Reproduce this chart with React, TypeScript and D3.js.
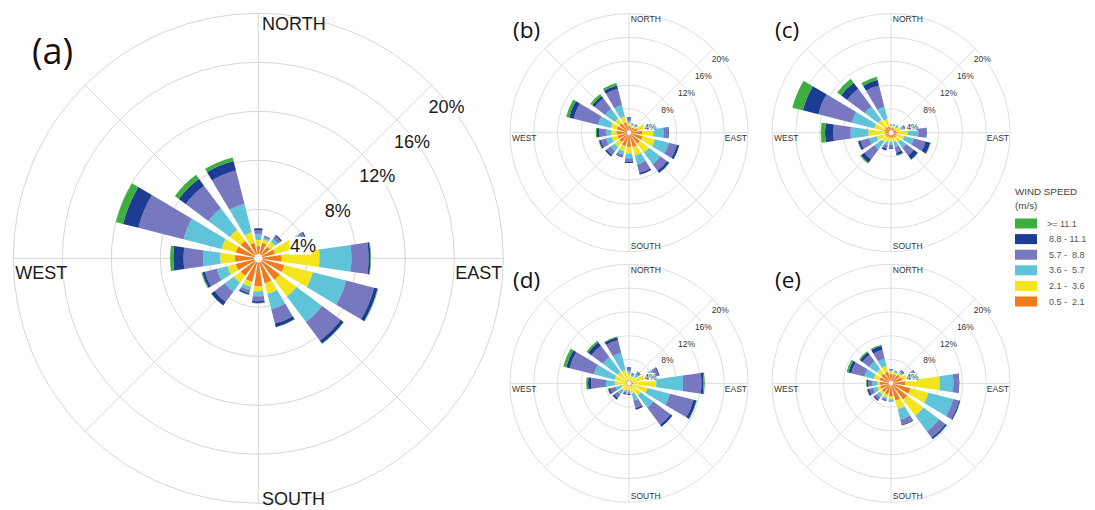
import React from 'react';
import * as d3 from 'd3';

// Sixteen compass sectors, clockwise from north
const DIRECTIONS = ['N', 'NNE', 'NE', 'ENE', 'E', 'ESE', 'SE', 'SSE', 'S', 'SSW', 'SW', 'WSW', 'W', 'WNW', 'NW', 'NNW'];

// Speed classes, slowest first (m/s)
const SPEED_CLASSES = ['0.5 -  2.1', '2.1 -  3.6', '3.6 -  5.7', '5.7 -  8.8', '8.8 - 11.1', '>= 11.1'];
const SPEED_COLORS = ['#ef7b1e', '#f3e41c', '#5fc4d9', '#7778c0', '#1c3d93', '#3eae3e'];

// Radial frequency rings (%)
const RING_TICKS = [4, 8, 12, 16, 20];

// Cumulative frequency (%) per sector, stacked from the slowest class outward
const roseA = [
  [1.0, 1.5, 2.0, 2.3, 2.45, 2.47],
  [1.3, 1.6, 1.75, 1.85, 1.9, 1.9],
  [1.2, 1.7, 2.0, 2.3, 2.4, 2.4],
  [1.4, 3.0, 3.8, 4.15, 4.25, 4.25],
  [1.9, 5.0, 7.6, 9.0, 9.15, 9.2],
  [2.2, 4.6, 7.4, 9.75, 10.05, 10.1],
  [2.2, 3.9, 6.5, 8.4, 8.68, 8.72],
  [2.1, 3.0, 4.3, 5.5, 5.8, 5.82],
  [2.3, 2.7, 3.1, 3.5, 3.65, 3.68],
  [2.0, 2.4, 2.7, 2.95, 3.08, 3.1],
  [1.8, 2.5, 3.4, 4.45, 4.8, 4.82],
  [1.9, 2.6, 3.5, 4.5, 4.72, 4.8],
  [1.9, 3.1, 4.5, 6.1, 6.94, 7.2],
  [1.9, 3.1, 6.3, 10.1, 11.4, 12.0],
  [1.8, 2.9, 5.1, 7.4, 8.1, 8.5],
  [1.3, 2.2, 4.6, 7.4, 8.2, 8.5],
];

const roseB = [
  [1.2, 1.6, 2.0, 2.4, 2.6, 2.6],
  [1.0, 1.3, 1.5, 1.6, 1.65, 1.65],
  [1.1, 1.4, 1.6, 1.75, 1.8, 1.8],
  [1.5, 2.6, 3.0, 3.2, 3.25, 3.25],
  [2.2, 4.1, 5.8, 6.55, 6.7, 6.7],
  [2.4, 4.5, 6.9, 8.3, 8.7, 8.72],
  [2.3, 4.2, 6.6, 8.0, 8.45, 8.5],
  [2.5, 4.0, 5.5, 7.0, 7.3, 7.3],
  [2.4, 3.5, 4.3, 4.9, 5.1, 5.1],
  [2.3, 3.2, 3.8, 4.2, 4.3, 4.3],
  [2.0, 3.0, 3.9, 4.7, 5.0, 5.0],
  [2.0, 3.0, 4.0, 4.9, 5.2, 5.3],
  [2.1, 3.0, 3.9, 5.0, 5.4, 5.6],
  [2.1, 3.2, 5.4, 9.6, 10.4, 10.9],
  [2.0, 3.0, 5.0, 7.2, 7.7, 8.1],
  [1.8, 2.8, 4.8, 7.6, 8.2, 8.6],
];

const roseC = [
  [0.8, 1.1, 1.2, 1.3, 1.35, 1.35],
  [0.8, 1.2, 1.4, 1.5, 1.5, 1.5],
  [0.8, 1.2, 1.5, 1.6, 1.6, 1.6],
  [0.9, 1.8, 2.2, 2.4, 2.5, 2.5],
  [1.0, 2.8, 4.6, 5.9, 6.0, 6.0],
  [1.0, 2.3, 4.0, 6.0, 6.8, 6.9],
  [1.0, 2.0, 3.2, 4.8, 5.6, 5.7],
  [0.9, 1.6, 2.5, 3.5, 3.9, 4.0],
  [0.9, 1.5, 2.0, 2.5, 2.7, 2.7],
  [0.9, 1.6, 2.2, 2.8, 3.1, 3.1],
  [0.9, 2.0, 3.5, 5.6, 6.3, 6.5],
  [1.0, 2.5, 3.8, 5.3, 5.7, 5.8],
  [1.0, 3.8, 6.8, 9.7, 11.1, 11.8],
  [1.2, 2.9, 6.8, 12.6, 15.3, 17.1],
  [1.2, 2.7, 5.5, 9.2, 10.5, 11.3],
  [1.1, 2.4, 4.5, 8.2, 9.2, 9.7],
];

const roseD = [
  [0.6, 1.6, 2.1, 2.5, 2.7, 2.7],
  [0.5, 1.2, 1.5, 1.7, 1.8, 1.8],
  [0.6, 1.5, 2.0, 2.4, 2.5, 2.5],
  [0.6, 3.0, 4.4, 5.1, 5.3, 5.3],
  [0.7, 4.6, 9.1, 12.2, 12.55, 12.75],
  [0.6, 3.2, 7.1, 11.2, 11.7, 11.8],
  [0.6, 2.5, 5.1, 8.7, 9.1, 9.1],
  [0.6, 1.8, 3.0, 4.3, 4.6, 4.6],
  [0.5, 1.2, 1.5, 1.8, 1.95, 2.0],
  [0.5, 1.1, 1.5, 1.8, 2.0, 2.0],
  [0.5, 1.5, 2.4, 3.1, 3.4, 3.5],
  [0.5, 1.4, 2.3, 3.3, 3.6, 3.7],
  [0.5, 2.4, 3.9, 6.4, 6.9, 7.2],
  [0.6, 2.5, 6.1, 10.3, 10.9, 11.4],
  [0.6, 2.4, 5.5, 7.9, 8.6, 8.9],
  [0.6, 2.3, 5.3, 7.5, 8.0, 8.1],
];

const roseE = [
  [1.6, 2.0, 2.2, 2.3, 2.4, 2.4],
  [1.6, 1.9, 2.1, 2.2, 2.2, 2.2],
  [1.8, 2.2, 2.5, 2.7, 2.8, 2.8],
  [2.0, 3.5, 4.0, 4.3, 4.4, 4.4],
  [2.4, 8.2, 10.5, 11.4, 11.5, 11.5],
  [3.4, 6.5, 10.8, 11.8, 12.0, 12.0],
  [3.4, 6.8, 10.1, 11.4, 11.7, 11.8],
  [3.0, 4.5, 6.3, 7.2, 7.3, 7.3],
  [2.2, 2.7, 3.0, 3.1, 3.1, 3.1],
  [2.0, 2.5, 2.8, 3.0, 3.1, 3.1],
  [1.9, 2.4, 3.0, 3.5, 3.7, 3.7],
  [1.9, 2.4, 3.1, 3.8, 4.1, 4.2],
  [1.9, 2.3, 3.1, 3.8, 4.1, 4.2],
  [2.0, 3.0, 4.6, 6.9, 7.4, 7.7],
  [2.0, 3.0, 4.6, 6.0, 6.5, 6.7],
  [2.0, 3.0, 4.3, 5.8, 6.5, 6.7],
];

const FONT = "'Liberation Sans', Arial, Helvetica, sans-serif";
const TAG_FONT = "'Open Sans', 'Noto Sans', sans-serif";
const BAR_SPAN = (16.5 * Math.PI) / 180;

type RoseProps = {
  cx: number;
  cy: number;
  radius: number;
  rows: number[][];
  tag: string;
  big?: boolean;
};

function Rose({ cx, cy, radius, rows, tag, big }: RoseProps) {
  const r = d3.scaleLinear().domain([0, 20]).range([0, radius]);
  const angle = d3
    .scalePoint<string>()
    .domain(DIRECTIONS)
    .range([0, (2 * Math.PI * 15) / 16]);
  const arc = d3.arc<any>();

  const cardSize = big ? 18 : 8.5;
  const pctSize = big ? 18 : 8.5;
  const tagSize = big ? 36 : 22.5;
  const textColor = big ? '#1a1a1a' : '#333';
  const gridColor = big ? '#d6d6d6' : '#dedede';
  const sideDy = big ? 15 : 5.5;
  const holeR = big ? 4.2 : 2.2;

  const spokes = d3.range(8).map((i) => (i * Math.PI) / 4);
  const diag = Math.SQRT1_2;

  const segments: { key: string; d: string; fill: string }[] = [];
  rows.forEach((row, i) => {
    const a = angle(DIRECTIONS[i]) as number;
    row.forEach((cum, k) => {
      const inner = k === 0 ? 0 : row[k - 1];
      if (cum <= inner) return;
      segments.push({
        key: `${i}-${k}`,
        fill: SPEED_COLORS[k],
        d: arc({
          innerRadius: r(inner),
          outerRadius: r(cum),
          startAngle: a - BAR_SPAN / 2,
          endAngle: a + BAR_SPAN / 2,
        }) as string,
      });
    });
  });

  return (
    <g>
      <g transform={`translate(${cx},${cy})`}>
        {RING_TICKS.map((t) => (
          <circle key={t} r={r(t)} fill="none" stroke={gridColor} strokeWidth={1} />
        ))}
        {spokes.map((s, i) => (
          <line
            key={i}
            x1={0}
            y1={0}
            x2={r(20) * Math.sin(s)}
            y2={-r(20) * Math.cos(s)}
            stroke={gridColor}
            strokeWidth={1}
          />
        ))}
        {segments.map((s) => (
          <path key={s.key} d={s.d} fill={s.fill} />
        ))}
        <circle r={holeR} fill="#fff" />
        {RING_TICKS.map((t) => {
          const label = `${t}%`;
          const x = r(t) * diag - radius * 0.012;
          const y = -r(t) * diag + radius * 0.09;
          const w = label.length * pctSize * 0.58;
          return (
            <g key={t}>
              <rect
                x={x - 1}
                y={y - pctSize * 0.5}
                width={w + 2}
                height={pctSize}
                fill="#fff"
              />
              <text
                x={x}
                y={y}
                dominantBaseline="central"
                fontSize={pctSize}
                fontFamily={FONT}
                fill={textColor}
              >
                {label}
              </text>
            </g>
          );
        })}
        <text
          x={radius * 0.015}
          y={-radius * 0.955}
          dominantBaseline="central"
          fontSize={cardSize}
          fontFamily={FONT}
          fill={textColor}
        >
          NORTH
        </text>
        <text
          x={radius * 0.015}
          y={radius * (big ? 0.982 : 0.95)}
          dominantBaseline="central"
          fontSize={cardSize}
          fontFamily={FONT}
          fill={textColor}
        >
          SOUTH
        </text>
        <text
          x={-radius + 2}
          y={sideDy}
          dominantBaseline="central"
          fontSize={cardSize}
          fontFamily={FONT}
          fill={textColor}
        >
          WEST
        </text>
        <text
          x={radius - 1}
          y={sideDy}
          textAnchor="end"
          dominantBaseline="central"
          fontSize={cardSize}
          fontFamily={FONT}
          fill={textColor}
        >
          EAST
        </text>
      </g>
      <text
        x={big ? 32 : cx - 116}
        y={big ? 64 : cy - 95}
        fontSize={tagSize}
        fontFamily={TAG_FONT}
        fill="#111"
      >
        {tag}
      </text>
    </g>
  );
}

function Legend({ x, y }: { x: number; y: number }) {
  const items = SPEED_CLASSES.map((label, k) => ({ label, color: SPEED_COLORS[k] })).reverse();
  return (
    <g fontFamily={FONT}>
      <text x={x} y={y} dominantBaseline="central" fontSize={9.8} fill="#444">
        WIND SPEED
      </text>
      <text x={x} y={y + 13.5} dominantBaseline="central" fontSize={9.8} fill="#444">
        (m/s)
      </text>
      {items.map((it, i) => {
        const cy = y + 31.8 + i * 15.6;
        return (
          <g key={it.label}>
            <rect x={x} y={cy - 5} width={22} height={10} fill={it.color} />
            <text
              x={x + (i === 0 ? 32 : 34)}
              y={cy}
              dominantBaseline="central"
              fontSize={9}
              fill="#555"
              style={{ whiteSpace: 'pre' }}
            >
              {it.label}
            </text>
          </g>
        );
      })}
    </g>
  );
}

export default function App() {
  return (
    <svg
      width={1095}
      height={510}
      viewBox="0 0 1095 510"
      style={{ position: 'absolute', left: 0, top: 0, background: '#fff' }}
    >
      <rect width={1095} height={510} fill="#fff" />
      <Rose cx={258.3} cy={258.3} radius={245} rows={roseA} tag="(a)" big />
      <Rose cx={629} cy={132.7} radius={119} rows={roseB} tag="(b)" />
      <Rose cx={891} cy={132.7} radius={119} rows={roseC} tag="(c)" />
      <Rose cx={629} cy={383.3} radius={119} rows={roseD} tag="(d)" />
      <Rose cx={891} cy={383.3} radius={119} rows={roseE} tag="(e)" />
      <Legend x={1015} y={191.7} />
    </svg>
  );
}
